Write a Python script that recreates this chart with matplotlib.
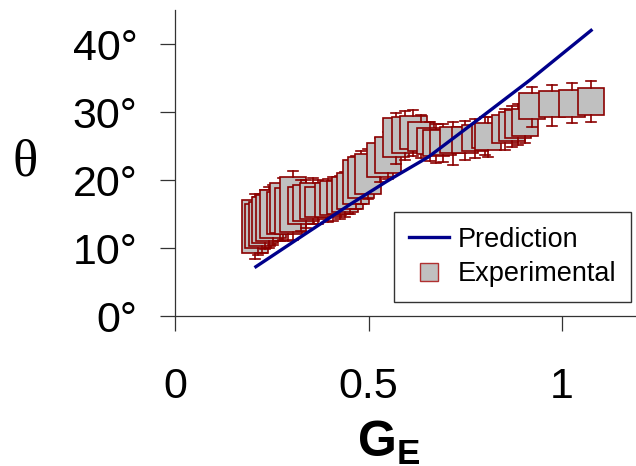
import matplotlib.pyplot as plt
from matplotlib.lines import Line2D

# box positions (G_E) and box statistics in degrees
ge = [0.206, 0.215, 0.224, 0.233, 0.243, 0.254, 0.271, 0.280, 0.293, 0.305,
      0.326, 0.339, 0.357, 0.370, 0.396, 0.409, 0.426, 0.439, 0.452, 0.468,
      0.481, 0.499, 0.530, 0.551, 0.571, 0.594, 0.616, 0.636, 0.659, 0.675,
      0.693, 0.719, 0.749, 0.775, 0.801, 0.809, 0.853, 0.870, 0.887, 0.904,
      0.922, 0.974, 1.026, 1.075]
q1 = [9.3, 10.0, 10.3, 10.8, 11.0, 11.5, 12.0, 12.2, 12.0, 12.4,
      13.5, 14.0, 14.2, 14.5, 14.6, 14.8, 15.0, 15.3, 15.8, 16.5,
      17.3, 18.0, 20.5, 21.0, 23.4, 24.0, 24.5, 24.3, 23.8, 23.5,
      23.7, 23.9, 24.0, 24.2, 24.7, 24.4, 25.4, 25.8, 26.2, 26.5,
      29.0, 29.2, 29.3, 29.6]
q3 = [17.1, 16.5, 16.8, 17.5, 17.8, 18.5, 18.2, 19.5, 18.8, 20.5,
      19.0, 19.2, 19.5, 19.0, 19.5, 19.8, 19.8, 20.5, 21.0, 22.9,
      23.4, 23.8, 25.5, 26.3, 29.1, 29.3, 29.4, 28.6, 27.6, 27.4,
      27.4, 27.8, 27.8, 28.1, 28.3, 28.4, 29.6, 30.0, 30.3, 30.5,
      32.8, 33.1, 33.3, 33.6]
lo = [8.4, 9.0, 9.3, 9.8, 10.0, 10.4, 11.0, 11.2, 11.0, 11.2,
      12.5, 13.0, 13.5, 13.6, 13.8, 14.0, 14.2, 14.5, 15.0, 15.7,
      16.5, 17.2, 19.7, 20.2, 22.4, 23.0, 23.5, 23.3, 22.8, 22.5,
      22.6, 22.2, 23.0, 23.2, 23.7, 23.4, 24.4, 24.8, 25.2, 25.5,
      27.8, 27.9, 28.4, 28.6]
hi = [18.0, 17.5, 18.0, 18.6, 19.0, 19.3, 19.2, 20.3, 19.8, 21.3,
      20.0, 20.0, 20.3, 20.0, 20.2, 20.5, 20.6, 21.2, 21.8, 23.6,
      24.2, 24.5, 26.2, 27.0, 29.9, 30.2, 30.3, 29.5, 28.5, 28.3,
      28.3, 28.6, 28.7, 29.0, 29.2, 29.3, 30.5, 30.9, 31.2, 31.4,
      33.7, 34.0, 34.3, 34.6]

# prediction curve
line_ge = [0.209, 0.332, 0.452, 0.547, 0.655, 0.788, 0.917, 1.075]
line_theta = [7.25, 11.9, 16.4, 19.8, 23.4, 29.1, 34.7, 42.0]

red = '#8b0000'
navy = '#00008b'

plt.rcParams['font.family'] = ['Liberation Sans', 'DejaVu Sans']
plt.rcParams['mathtext.fontset'] = 'custom'
plt.rcParams['mathtext.rm'] = 'Liberation Sans'
plt.rcParams['mathtext.bf'] = 'Liberation Sans:bold'

fig = plt.figure(figsize=(6.36, 4.66), dpi=100)
ax = fig.add_axes([175/636, 150/466, 461/636, 306/466])

for i in range(len(ge)):
    st = dict(med=(q1[i] + q3[i]) / 2, q1=q1[i], q3=q3[i],
              whislo=lo[i], whishi=hi[i], fliers=[])
    ax.bxp([st], positions=[ge[i]], widths=0.068, capwidths=0.026,
           patch_artist=True, manage_ticks=False, showfliers=False,
           boxprops=dict(facecolor='#c0c0c0', edgecolor=red, linewidth=1.2),
           whiskerprops=dict(color=red, linewidth=1.2),
           capprops=dict(color=red, linewidth=1.2),
           medianprops=dict(linewidth=0),
           zorder=2 + i * 0.01)

ax.plot(line_ge, line_theta, color=navy, linewidth=2.4, zorder=3)

ax.set_xlim(0, 1.191)
ax.set_ylim(0, 45.0)
ax.spines['top'].set_visible(False)
ax.spines['right'].set_visible(False)
for s in ['left', 'bottom']:
    ax.spines[s].set_color('#333333')
    ax.spines[s].set_linewidth(0.9)

ax.set_xticks([0, 0.5, 1])
ax.set_xticklabels(['0', '0.5', '1'])
ax.set_yticks([0, 10, 20, 30, 40])
ax.set_yticklabels(['0°', '10°', '20°', '30°', '40°'])
ax.tick_params(direction='out', length=10.8, width=0.9, color='#333333',
               labelsize=31)
ax.tick_params(axis='x', pad=26)
ax.tick_params(axis='y', pad=16)

fig.text(389/636, 9/466, r'$\mathbf{G_E}$', fontsize=36,
         ha='center', va='baseline')
fig.text(25/636, 303/466, 'θ', family='Liberation Serif', fontsize=38,
         ha='center', va='center')

handles = [Line2D([], [], color=navy, linewidth=2.4),
           Line2D([], [], linestyle='none', marker='s', markersize=13,
                  markerfacecolor='#c0c0c0', markeredgecolor='#b03030',
                  markeredgewidth=1)]
leg = ax.legend(handles, ['Prediction', 'Experimental'], loc='lower right',
                bbox_to_anchor=(0.989, 0.046), borderaxespad=0, fontsize=19.5,
                handlelength=1.5, handletextpad=0.3, labelspacing=0.3,
                borderpad=0.55, fancybox=False, framealpha=1,
                edgecolor='#333333')
leg.get_frame().set_linewidth(1.0)

fig.savefig('out.png', dpi=100)
